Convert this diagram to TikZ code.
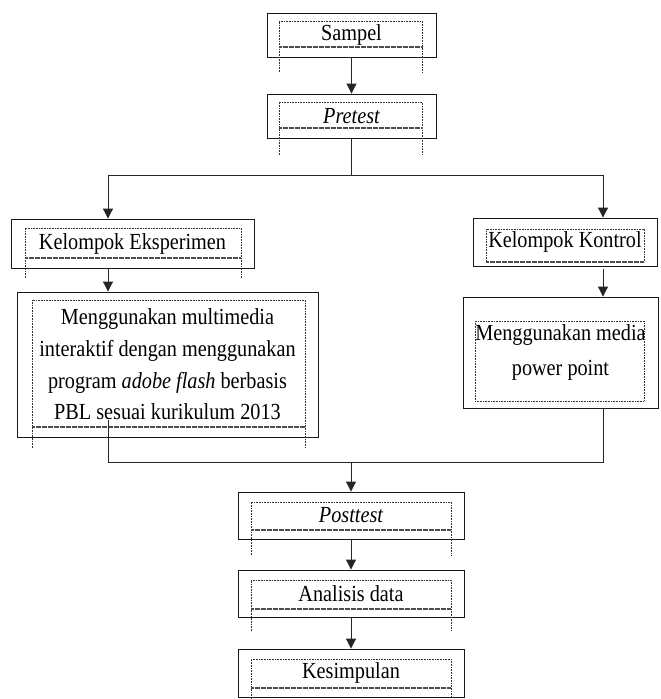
\documentclass[tikz,border=0pt]{standalone}
\usepackage{fontspec}
\setmainfont{Liberation Serif}[FakeStretch=0.88]
\usetikzlibrary{arrows.meta}
\newcommand{\ibox}[5]{\draw[inl] (#1,#5) -- (#1,#2) -- (#3,#2) -- (#3,#5); \draw[inb] (#1,#4) -- (#3,#4);}
\begin{document}
\begin{tikzpicture}[x=1pt,y=-1pt,
 box/.style={draw=black!90,line width=0.9pt,inner sep=0pt,align=center,font=\fontsize{23}{31.7}\selectfont},
 inl/.style={line width=0.6pt,dash pattern=on 0.7pt off 0.9pt,black!80},
 inb/.style={line width=1.4pt,dash pattern=on 0.6pt off 0.6pt,black!70},
 conn/.style={line width=1pt,black!85},
 arr/.style={conn,-{Triangle[width=10pt,length=10pt]}}]
\useasboundingbox (0,0) rectangle (661,699);
% nodes
\node[box,minimum width=169pt,minimum height=44pt] (sampel) at (351.5,35) {Sampel};
\node[box,minimum width=169pt,minimum height=44pt] (pretest) at (351.5,116) {\itshape Pretest};
\node[box,minimum width=243pt,minimum height=49pt] (ke) at (132.5,243.5) {Kelompok Eksperimen};
\node[box,minimum width=184pt,minimum height=48pt] (kk) at (565,242) {\raisebox{-3pt}{Kelompok Kontrol}};
\node[box,minimum width=301pt,minimum height=145pt] (big) at (167.5,364.5) {Menggunakan multimedia\\interaktif dengan menggunakan\\program \textit{adobe flash} berbasis\\PBL sesuai kurikulum 2013};
\node[box,minimum width=195pt,minimum height=111pt,font=\fontsize{23}{35}\selectfont] (kk2) at (560.5,352.5) {Menggunakan media\\power point};
\node[box,minimum width=226pt,minimum height=47pt] (posttest) at (351,515.5) {\itshape Posttest};
\node[box,minimum width=226pt,minimum height=47pt] (analisis) at (351,593.5) {Analisis data};
\node[box,minimum width=226pt,minimum height=48pt] (kesimpulan) at (351,673) {Kesimpulan};
% inner dotted frames
\ibox{279}{21}{422}{47}{72}
\ibox{279}{102}{422}{128}{155}
\ibox{25}{228}{241}{258}{278}
\ibox{486}{229}{644}{262}{262}
\draw[inl] (475,321) rectangle (644,401);
\ibox{32}{300}{305}{427}{448}
\ibox{251}{502}{451}{530}{555}
\ibox{251}{580}{451}{609}{631}
\ibox{251}{659}{451}{688}{699}
% connectors
\coordinate (jc) at (351.5,175);
\coordinate (jl) at (108,175);
\coordinate (jr) at (603,175);
\coordinate (bs) at (108,420);
\coordinate (ml) at (108,462);
\coordinate (mr) at (603,462);
\coordinate (mc) at (351,462);
\draw[arr] (sampel.south) -- (pretest.north);
\draw[conn] (pretest.south) -- (jc);
\draw[conn] (jl) -- (jr);
\draw[arr] (jl) -- (jl |- ke.north);
\draw[arr] (jr) -- (jr |- kk.north);
\draw[arr] (ke.south -| jl) -- (big.north -| jl);
\draw[arr] ([yshift=-3pt]kk.south -| jr) -- (kk2.north -| jr);
\draw[conn] (bs) -- (ml) -- (mr) -- (mr |- kk2.south);
\draw[arr] (mc) -- (posttest.north);
\draw[arr] (posttest.south) -- (analisis.north);
\draw[arr] (analisis.south) -- (kesimpulan.north);
\end{tikzpicture}
\end{document}
